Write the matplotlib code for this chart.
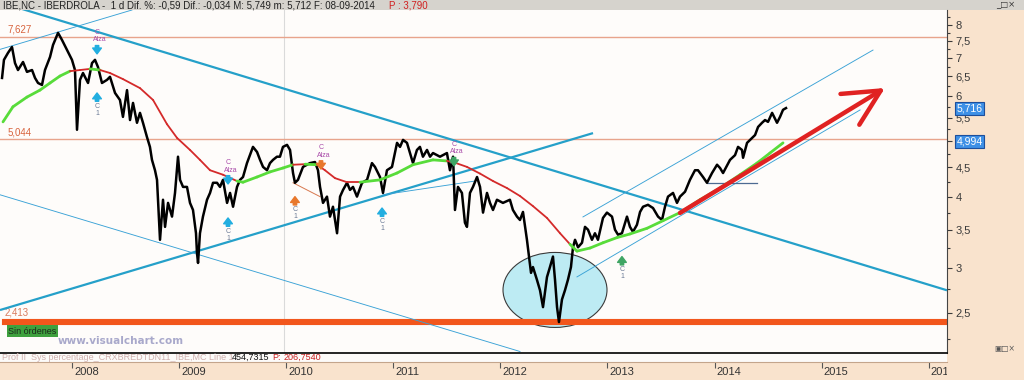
import numpy as np
import matplotlib
matplotlib.use("Agg")
import matplotlib.pyplot as plt
from matplotlib import font_manager
from matplotlib.collections import LineCollection
from matplotlib.patches import Ellipse, FancyArrowPatch, Rectangle
from matplotlib.transforms import ScaledTranslation
import matplotlib.ticker as mticker

_names = {f.name for f in font_manager.fontManager.ttflist}
NARROW = 'Liberation Sans Narrow' if 'Liberation Sans Narrow' in _names else 'Liberation Sans'
plt.rcParams['font.family'] = [NARROW, 'DejaVu Sans']

# ---------------- data ----------------
price_dates = [
    2007.347, 2007.365, 2007.403, 2007.440, 2007.468, 2007.496, 2007.543, 2007.580, 2007.627, 2007.655,
    2007.683, 2007.720, 2007.748, 2007.795, 2007.823, 2007.870, 2007.907, 2007.954, 2008.000, 2008.028,
    2008.047, 2008.075, 2008.103, 2008.150, 2008.187, 2008.215, 2008.243, 2008.280, 2008.327, 2008.355,
    2008.402, 2008.448, 2008.476, 2008.514, 2008.542, 2008.570, 2008.607, 2008.635, 2008.663, 2008.700,
    2008.728, 2008.747, 2008.775, 2008.794, 2008.803, 2008.822, 2008.841, 2008.850, 2008.869, 2008.897,
    2008.934, 2008.962, 2008.990, 2009.009, 2009.037, 2009.074, 2009.102, 2009.130, 2009.158, 2009.167,
    2009.177, 2009.195, 2009.223, 2009.261, 2009.289, 2009.317, 2009.354, 2009.382, 2009.410, 2009.448,
    2009.476, 2009.504, 2009.541, 2009.569, 2009.597, 2009.634, 2009.662, 2009.690, 2009.728, 2009.756,
    2009.784, 2009.821, 2009.849, 2009.877, 2009.914, 2009.942, 2009.970, 2010.008, 2010.036, 2010.064,
    2010.082, 2010.110, 2010.157, 2010.222, 2010.269, 2010.297, 2010.316, 2010.344, 2010.381, 2010.409,
    2010.437, 2010.475, 2010.503, 2010.531, 2010.568, 2010.596, 2010.624, 2010.661, 2010.708, 2010.755,
    2010.801, 2010.829, 2010.876, 2010.904, 2010.941, 2010.988, 2011.035, 2011.063, 2011.091, 2011.128,
    2011.156, 2011.184, 2011.221, 2011.249, 2011.277, 2011.315, 2011.343, 2011.371, 2011.436, 2011.501,
    2011.529, 2011.558, 2011.576, 2011.604, 2011.641, 2011.669, 2011.688, 2011.716, 2011.744, 2011.782,
    2011.810, 2011.838, 2011.875, 2011.903, 2011.931, 2011.968, 2012.024, 2012.089, 2012.117, 2012.155,
    2012.183, 2012.211, 2012.248, 2012.267, 2012.286, 2012.304, 2012.341, 2012.370, 2012.398, 2012.435,
    2012.463, 2012.491, 2012.510, 2012.529, 2012.547, 2012.575, 2012.603, 2012.631, 2012.659, 2012.678,
    2012.697, 2012.725, 2012.762, 2012.790, 2012.818, 2012.855, 2012.883, 2012.911, 2012.958, 2012.995,
    2013.042, 2013.070, 2013.098, 2013.135, 2013.182, 2013.210, 2013.238, 2013.275, 2013.304, 2013.332,
    2013.378, 2013.425, 2013.472, 2013.509, 2013.537, 2013.565, 2013.612, 2013.649, 2013.677, 2013.724,
    2013.770, 2013.817, 2013.845, 2013.892, 2013.929, 2013.976, 2014.023, 2014.051, 2014.079, 2014.144,
    2014.191, 2014.219, 2014.256, 2014.266, 2014.303, 2014.350, 2014.378, 2014.406, 2014.443, 2014.471,
    2014.499, 2014.537, 2014.583, 2014.611, 2014.639, 2014.667]
price_values = [
    6.46, 6.95, 7.15, 7.32, 6.86, 6.67, 6.89, 6.62, 6.67, 6.46,
    6.33, 6.28, 6.67, 7.03, 7.38, 7.75, 7.53, 7.23, 6.95, 6.67,
    5.24, 6.41, 6.59, 6.33, 6.86, 6.95, 6.75, 6.33, 6.41, 6.49,
    6.08, 5.91, 5.52, 6.15, 5.45, 5.84, 5.39, 5.61, 5.39, 5.09,
    4.89, 4.64, 4.45, 4.28, 3.95, 3.36, 3.75, 3.95, 3.54, 3.90,
    3.69, 4.06, 4.70, 4.28, 4.16, 4.16, 3.90, 3.79, 3.45, 3.19,
    3.06, 3.45, 3.69, 3.95, 4.06, 4.23, 4.23, 4.16, 4.28, 3.90,
    4.06, 3.84, 4.16, 4.28, 4.33, 4.58, 4.73, 4.89, 4.79, 4.64,
    4.51, 4.45, 4.58, 4.64, 4.70, 4.70, 4.89, 4.93, 4.83, 4.40,
    4.23, 4.28, 4.51, 4.58, 4.60, 4.45, 4.16, 3.90, 4.00, 3.69,
    3.84, 3.45, 4.00, 4.11, 4.23, 4.11, 4.16, 4.00, 4.23, 4.28,
    4.58, 4.51, 4.33, 4.06, 4.45, 4.51, 4.97, 4.89, 5.03, 4.97,
    4.77, 4.58, 4.83, 4.89, 4.70, 4.83, 4.70, 4.77, 4.70, 4.77,
    4.45, 4.70, 3.79, 4.16, 4.06, 3.60, 3.54, 4.06, 4.16, 4.33,
    4.16, 3.75, 4.06, 3.90, 3.79, 3.95, 3.90, 3.95, 3.79, 3.69,
    3.64, 3.76, 3.36, 3.14, 2.94, 3.01, 2.86, 2.74, 2.56, 2.89,
    3.01, 3.14, 2.86, 2.56, 2.41, 2.64, 2.74, 2.86, 3.01, 3.26,
    3.36, 3.26, 3.32, 3.54, 3.50, 3.36, 3.45, 3.36, 3.67, 3.75,
    3.69, 3.50, 3.43, 3.45, 3.69, 3.54, 3.47, 3.57, 3.76, 3.84,
    3.87, 3.82, 3.69, 3.64, 3.84, 4.00, 4.06, 3.90, 4.00, 4.08,
    4.28, 4.45, 4.45, 4.33, 4.23, 4.40, 4.55, 4.49, 4.40, 4.64,
    4.73, 4.89, 4.83, 4.68, 4.97, 5.07, 5.13, 5.30, 5.39, 5.45,
    5.41, 5.61, 5.39, 5.52, 5.68, 5.72]

ma_dates = [
    2007.356, 2007.449, 2007.580, 2007.701, 2007.795, 2007.888, 2007.982, 2008.075, 2008.168, 2008.262,
    2008.355, 2008.476, 2008.635, 2008.757, 2008.887, 2008.981, 2009.102, 2009.195, 2009.289, 2009.410,
    2009.541, 2009.597, 2009.728, 2009.849, 2009.970, 2010.064, 2010.176, 2010.288, 2010.362, 2010.456,
    2010.568, 2010.689, 2010.876, 2011.035, 2011.184, 2011.371, 2011.501, 2011.558, 2011.688, 2011.810,
    2011.931, 2012.062, 2012.183, 2012.304, 2012.435, 2012.557, 2012.650, 2012.715, 2012.837, 2012.958,
    2013.089, 2013.210, 2013.369, 2013.519, 2013.677, 2013.864, 2014.051, 2014.237, 2014.396, 2014.517,
    2014.639]
ma_values = [
    5.41, 5.75, 5.98, 6.15, 6.33, 6.51, 6.64, 6.67, 6.70, 6.67,
    6.59, 6.43, 6.20, 5.91, 5.36, 5.07, 4.83, 4.64, 4.45, 4.37,
    4.26, 4.24, 4.33, 4.42, 4.49, 4.55, 4.56, 4.55, 4.45, 4.31,
    4.24, 4.24, 4.28, 4.40, 4.55, 4.64, 4.62, 4.60, 4.51, 4.39,
    4.26, 4.14, 4.01, 3.85, 3.67, 3.45, 3.30, 3.21, 3.25, 3.32,
    3.39, 3.44, 3.52, 3.63, 3.75, 3.95, 4.14, 4.37, 4.58, 4.77,
    4.97]

level_values = [7.627, 5.044]
level_labels = ["7,627", "5,044"]
support_value = 2.413
support_label = "2,413"

last_values = [5.716, 4.994]
last_labels = ["5,716", "4,994"]

year_ticks = [2008, 2009, 2010, 2011, 2012, 2013, 2014, 2015, 2016]
year_labels = ["2008", "2009", "2010", "2011", "2012", "2013", "2014", "2015", "2016"]

ytick_values = [2.5, 3, 3.5, 4, 4.5, 5, 5.5, 6, 6.5, 7, 7.5, 8]
# the "5" label is hidden under the 4,994 box in the reference
ytick_labels = ["2,5", "3", "3,5", "4", "4,5", "", "5,5", "6", "6,5", "7", "7,5", "8"]
yminor_values = [2.25, 2.75, 3.25, 3.75, 4.25, 4.75, 5.25, 5.75, 6.25, 6.75, 7.25, 7.75, 8.25]

# drawn trend lines (start/end date, start/end price)
thick_line_dates = [[2007.328, 2016.170], [2007.328, 2012.865]]
thick_line_values = [[8.77, 2.74], [2.53, 5.17]]
thin_line_dates = [[2007.328, 2008.560], [2007.328, 2012.183], [2012.771, 2015.479],
                   [2012.715, 2015.358], [2010.904, 2011.763]]
thin_line_values = [[7.25, 8.50], [4.03, 2.14], [3.685, 7.23], [2.892, 5.676], [4.03, 4.26]]
orange_line_dates = [2010.064, 2010.316]
orange_line_values = [4.23, 4.00]
short_hline_dates = [2013.929, 2014.396]
short_hline_values = [4.23, 4.23]

arrow_dates = [2013.677, 2015.591]
arrow_values = [3.745, 6.204]

ellipse_center_date = 2012.51
ellipse_center_value = 2.744

buy_dates = [2008.234, 2009.457, 2010.082, 2010.895, 2013.135]
buy_prices = [6.08, 3.67, 4.00, 3.82, 3.14]
buy_kind = ["cyan", "cyan", "orange", "cyan", "green"]
sell_dates = [2008.234, 2009.457, 2010.325, 2011.567]
sell_prices = [7.12, 4.21, 4.47, 4.53]
sell_kind = ["cyan", "cyan", "orange", "green"]

x_min, x_max = 2007.328, 2016.170
y_min, y_max = 2.127, 8.50

# ---------------- drawing ----------------
W, H, DPI = 1024, 380, 100
PEACH = '#f9e3cd'
fig = plt.figure(figsize=(W / DPI, H / DPI), dpi=DPI, facecolor=PEACH)


def fx(px):
    return px / W


def fy(py):
    return 1 - py / H


fig.add_artist(Rectangle((0, fy(10)), 1, 10 / H, transform=fig.transFigure,
                         facecolor='#d6d3cd', edgecolor='none', zorder=0))
fig.add_artist(Rectangle((0, fy(362)), fx(947), 9 / H, transform=fig.transFigure,
                         facecolor='#fdfbf9', edgecolor='none', zorder=0))

ax = fig.add_axes([0, fy(353), fx(947), (353 - 10) / H])
ax.set_facecolor('#fefcfa')
ax.set_yscale('log')
ax.set_autoscale_on(False)

kind_color = {"cyan": '#22aee0', "orange": '#e8782c', "green": '#3fa564'}

# vertical cursor line
ax.axvline(2009.98, color='#dadada', lw=0.8, zorder=1)

# horizontal levels
for v, lab in zip(level_values, level_labels):
    ax.axhline(v, color='#e8a48c', lw=1.0, zorder=2)
    ax.annotate(lab, xy=(0.008, v), xycoords=('axes fraction', 'data'), xytext=(0, 5),
                textcoords='offset points', ha='left', va='center', fontsize=7,
                color='#d8643e')
ax.axhline(support_value, xmin=0.005, color='#f2561c', lw=4.4, zorder=2)
ax.annotate(support_label, xy=(0.005, support_value), xycoords=('axes fraction', 'data'),
            xytext=(0, 7), textcoords='offset points', ha='left', va='center', fontsize=7,
            color='#d87a5c')

# ellipse (fixed pixel size, centred on data point)
trans = fig.dpi_scale_trans + ScaledTranslation(ellipse_center_date, ellipse_center_value, ax.transData)
ax.add_patch(Ellipse((0, 0), width=1.04, height=0.75, transform=trans,
                     facecolor='#bdebf3', edgecolor='#3a3a3a', lw=0.8, zorder=1.5))

# trend lines
for d, v in zip(thick_line_dates, thick_line_values):
    ax.plot(d, v, color='#25a0c9', lw=1.6, zorder=3, solid_capstyle='butt')
for d, v in zip(thin_line_dates, thin_line_values):
    ax.plot(d, v, color='#3aa2d6', lw=0.65, zorder=3)
ax.plot(orange_line_dates, orange_line_values, color='#d8784e', lw=0.7, zorder=3)
ax.plot(short_hline_dates, short_hline_values, color='#4d6a92', lw=0.9, zorder=3)

# price
ax.plot(price_dates, price_values, color='black', lw=1.8, zorder=4, solid_joinstyle='round')

# moving average coloured by position of price
md = np.array(ma_dates)
mv = np.array(ma_values)
pts = np.column_stack([md, mv])
segs = np.stack([pts[:-1], pts[1:]], axis=1)
mid_d = (md[:-1] + md[1:]) / 2
mid_ma = (mv[:-1] + mv[1:]) / 2
mid_p = np.interp(mid_d, price_dates, price_values)
above = mid_p > mid_ma
lc = LineCollection(segs, colors=np.where(above, '#58dc3a', '#d42a2a'),
                    linewidths=np.where(above, 2.0, 1.3), zorder=5, capstyle='round')
ax.add_collection(lc)

# big red arrow
ax.add_patch(FancyArrowPatch((arrow_dates[0], arrow_values[0]), (arrow_dates[1], arrow_values[1]),
                             arrowstyle='->,head_length=2.6,head_width=1.3', mutation_scale=10,
                             color='#e02222', lw=3.2, zorder=6, shrinkA=0, shrinkB=0,
                             capstyle='round', joinstyle='round'))

# signals
asty = 'simple,head_width=0.9,head_length=0.6,tail_width=0.35'
for d, p, k in zip(buy_dates, buy_prices, buy_kind):
    c = kind_color[k]
    ax.annotate('', xy=(d, p), xytext=(0, -6), textcoords='offset points',
                arrowprops=dict(arrowstyle=asty, color=c, mutation_scale=7, shrinkA=0, shrinkB=0),
                zorder=7)
    ax.annotate('C', xy=(d, p), xytext=(0, -9.5), textcoords='offset points', ha='center',
                va='center', fontsize=5, color='#6a7a96', zorder=7)
    ax.annotate('1', xy=(d, p), xytext=(0, -14.5), textcoords='offset points', ha='center',
                va='center', fontsize=5, color='#6a7a96', zorder=7)
for d, p, k in zip(sell_dates, sell_prices, sell_kind):
    c = kind_color[k]
    ax.annotate('', xy=(d, p), xytext=(0, 6), textcoords='offset points',
                arrowprops=dict(arrowstyle=asty, color=c, mutation_scale=7, shrinkA=0, shrinkB=0),
                zorder=7)
    ax.annotate('Alza', xy=(d, p), xytext=(2, 10), textcoords='offset points', ha='center',
                va='center', fontsize=5, color='#a94aa9', zorder=7)
    ax.annotate('C', xy=(d, p), xytext=(0, 15.5), textcoords='offset points', ha='center',
                va='center', fontsize=5, color='#a94aa9', zorder=7)

# right axis
ax.yaxis.tick_right()
ax.yaxis.set_major_locator(mticker.FixedLocator(ytick_values))
ax.yaxis.set_major_formatter(mticker.FixedFormatter(ytick_labels))
ax.yaxis.set_minor_locator(mticker.FixedLocator(yminor_values))
ax.yaxis.set_minor_formatter(mticker.NullFormatter())
ax.tick_params(axis='y', which='major', length=3.5, width=0.8, colors='#3a3a3a',
               labelsize=8, pad=2.5, direction='out')
ax.tick_params(axis='y', which='minor', length=2.5, width=0.8, colors='#3a3a3a', direction='out')
ax.tick_params(axis='x', which='both', bottom=False, labelbottom=False, top=False)
ax.set_xlim(x_min, x_max)
ax.set_ylim(y_min, y_max)
for s in ['top', 'left']:
    ax.spines[s].set_visible(False)
ax.spines['bottom'].set_color('black')
ax.spines['bottom'].set_linewidth(1.2)
ax.spines['right'].set_color('#444444')
ax.spines['right'].set_linewidth(0.8)

for v, lab in zip(last_values, last_labels):
    ax.annotate(lab, xy=(1.0, v), xycoords=('axes fraction', 'data'), xytext=(7, 0),
                textcoords='offset points', ha='left', va='center', fontsize=7.5, color='white',
                bbox=dict(boxstyle='square,pad=0.15', fc='#3e90e6', ec='#1d4f9c', lw=0.8),
                annotation_clip=False, zorder=10)

# watermark + status
ax.text(58 / 947, (353 - 341) / 343, 'www.visualchart.com', transform=ax.transAxes,
        fontsize=7.5, fontweight='bold', family='DejaVu Sans', color='#a9a9cb',
        ha='left', va='center', zorder=8)
ax.text(8 / 947, (353 - 331) / 343, 'Sin órdenes', transform=ax.transAxes, fontsize=6.5,
        color='#1c2a1c', ha='left', va='center', zorder=8,
        bbox=dict(boxstyle='square,pad=0.15', fc='#3ea13e', ec='none'))

# bottom date strip
axx = fig.add_axes([0, 0, fx(947), 18 / H])
axx.set_facecolor(PEACH)
axx.set_xlim(x_min, x_max)
axx.set_ylim(0, 1)
axx.set_xticks(year_ticks)
axx.set_yticks([])
axx.tick_params(axis='x', direction='in', length=4.5, width=0.8, colors='#555555',
                top=True, bottom=False, labelbottom=False)
for s in ['bottom', 'left', 'right']:
    axx.spines[s].set_visible(False)
axx.spines['top'].set_color('#c4a58c')
axx.spines['top'].set_linewidth(0.8)
for yr, lab in zip(year_ticks, year_labels):
    axx.annotate(lab, xy=(yr, 0.42), xytext=(1.5, 0), textcoords='offset points',
                 ha='left', va='center', fontsize=8, color='#333333', clip_on=True)

# header and second-panel caption
fig.text(fx(3), fy(5), 'IBE,NC - IBERDROLA -  1 d Dif. %: -0,59 Dif.: -0,034 M: 5,749 m: 5,712 F: 08-09-2014',
         fontsize=7, color='#222222', ha='left', va='center')
fig.text(fx(389), fy(5), 'P : 3,790', fontsize=7, color='#d02020', ha='left', va='center')
fig.text(fx(996), fy(4.5), '_□×', fontsize=6, color='#333333', ha='left', va='center',
         family='DejaVu Sans')
fig.text(fx(994), fy(349), '▣□×', fontsize=5.5, color='#555555', ha='left', va='center',
         family='DejaVu Sans')
fig.text(fx(2), fy(357.5), 'Prof II  Sys percentage_CRXBREDTDN11_IBE,MC Line 1',
         fontsize=6.5, color='#cfb0ae', ha='left', va='center')
fig.text(fx(232), fy(357.5), '454,7315', fontsize=6.5, color='#111111', ha='left', va='center')
fig.text(fx(272), fy(357.5), 'P:', fontsize=6.5, color='#c82020', ha='left', va='center')
fig.text(fx(284), fy(357.5), '206,7540', fontsize=6.5, color='#c82020', ha='left', va='center')

fig.savefig('out.png', dpi=DPI, facecolor=PEACH)
